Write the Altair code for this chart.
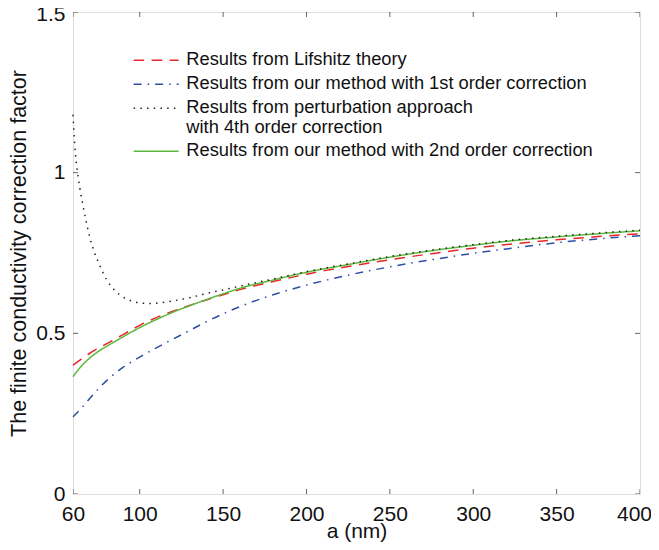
import altair as alt
import pandas as pd

# ---- data ----
S_LIF = "Results from Lifshitz theory"
S_1ST = "Results from our method with 1st order correction"
S_PERT = "Results from perturbation approach\nwith 4th order correction"
S_2ND = "Results from our method with 2nd order correction"
series_order = [S_LIF, S_1ST, S_PERT, S_2ND]

a_common = [60, 65, 70, 75, 80, 90, 100, 110, 120, 130, 140, 150, 160,
            180, 200, 225, 250, 275, 300, 325, 350, 375, 400]
lifshitz = [0.401, 0.420, 0.438, 0.453, 0.467, 0.496, 0.525, 0.549, 0.569,
            0.587, 0.604, 0.620, 0.636, 0.661, 0.684, 0.708, 0.729, 0.748,
            0.765, 0.779, 0.791, 0.801, 0.810]
first_order = [0.240, 0.267, 0.297, 0.326, 0.352, 0.394, 0.426, 0.455, 0.482,
               0.509, 0.536, 0.561, 0.583, 0.620, 0.650, 0.681, 0.707, 0.729,
               0.749, 0.766, 0.782, 0.794, 0.804]
second_order = [0.365, 0.398, 0.423, 0.443, 0.459, 0.489, 0.518, 0.543, 0.566,
                0.586, 0.605, 0.623, 0.640, 0.666, 0.690, 0.714, 0.737, 0.757,
                0.774, 0.789, 0.800, 0.810, 0.819]

a_pert = [60, 61, 62, 63, 64, 66, 68, 70, 73, 76, 80, 85, 90, 95, 100, 105,
          110, 115, 120, 130, 140, 150, 160, 180, 200, 225, 250, 275, 300,
          325, 350, 375, 400]
perturbation = [1.18, 1.09, 1.03, 0.99, 0.955, 0.897, 0.846, 0.800, 0.750,
                0.712, 0.668, 0.634, 0.613, 0.601, 0.595, 0.593, 0.594, 0.597,
                0.601, 0.611, 0.624, 0.635, 0.647, 0.669, 0.692, 0.716, 0.739,
                0.759, 0.776, 0.791, 0.802, 0.812, 0.821]

x_ticks = [60, 100, 150, 200, 250, 300, 350, 400]
y_ticks = [0, 0.5, 1, 1.5]

colors = ["#e8262b", "#2c4fa3", "#222222", "#5cb83c"]
dashes = [[10.5, 7.5], [8, 6, 1.5, 6], [1.5, 5.2], [1, 0]]

rows = []
for s, ys in [(S_LIF, lifshitz), (S_1ST, first_order), (S_2ND, second_order)]:
    for a, v in zip(a_common, ys):
        rows.append({"a": a, "f": v, "series": s})
for a, v in zip(a_pert, perturbation):
    rows.append({"a": a, "f": v, "series": S_PERT})
df = pd.DataFrame(rows)
df_xt = pd.DataFrame({"a": x_ticks})
df_yt = pd.DataFrame({"f": y_ticks})

FONT = "Liberation Sans"
TXT = "#111111"
W, H = 567, 482
xscale = alt.Scale(domain=[60, 400], nice=False, zero=False)
yscale = alt.Scale(domain=[0, 1.5], nice=False)

x_axis = alt.Axis(title="a (nm)", values=x_ticks, labelExpr="'' + datum.value",
                  grid=False, domain=False, ticks=False, labelPadding=9,
                  labelFlush=False, labelOverlap=False,
                  labelOffset={"condition": {"test": "datum.value == 400", "value": -6},
                               "value": 0},
                  labelFont=FONT, labelFontSize=21, labelColor=TXT,
                  titleFont=FONT, titleFontSize=21, titleFontWeight="normal",
                  titleColor=TXT, titlePadding=-4)
y_axis = alt.Axis(title="The finite conductivity correction factor",
                  values=y_ticks, labelExpr="'' + datum.value", grid=False,
                  domain=False, ticks=False, labelPadding=8,
                  labelFlush=False, labelOverlap=False,
                  labelOffset={"condition": {"test": "datum.value == 1.5", "value": 2},
                               "value": 0},
                  labelFont=FONT, labelFontSize=21, labelColor=TXT,
                  titleFont=FONT, titleFontSize=21.5, titleFontWeight="normal",
                  titleColor=TXT, titlePadding=5)

legend = alt.Legend(orient="none", legendX=74, legendY=39,
                    title=None, symbolType="M-3,0H3",
                    symbolSize=225, symbolStrokeWidth=1.5,
                    labelFont=FONT, labelFontSize=18.3,
                    labelColor=TXT, labelOffset=21,
                    labelLimit=1000, rowPadding=5, padding=0,
                    labelExpr="split(datum.label, '\\n')")

lines = alt.Chart(df).mark_line(strokeWidth=1.5, interpolate="monotone").encode(
    x=alt.X("a:Q", scale=xscale, axis=x_axis),
    y=alt.Y("f:Q", scale=yscale, axis=y_axis),
    color=alt.Color("series:N", scale=alt.Scale(domain=series_order, range=colors),
                    legend=legend),
    strokeDash=alt.StrokeDash("series:N",
                              scale=alt.Scale(domain=series_order, range=dashes),
                              legend=legend),
    detail="series:N",
)

# inward ticks on all four sides (half of each tick is clipped away at the frame)
TICK = dict(clip=True, size=10, thickness=1, color="#222222")
xt_bottom = alt.Chart(df_xt).mark_tick(orient="vertical", **TICK).encode(
    x=alt.X("a:Q", scale=xscale, axis=x_axis), y=alt.value(H))
xt_top = alt.Chart(df_xt).mark_tick(orient="vertical", **TICK).encode(
    x=alt.X("a:Q", scale=xscale, axis=x_axis), y=alt.value(0))
yt_left = alt.Chart(df_yt).mark_tick(orient="horizontal", **TICK).encode(
    y=alt.Y("f:Q", scale=yscale, axis=y_axis), x=alt.value(0))
yt_right = alt.Chart(df_yt).mark_tick(orient="horizontal", **TICK).encode(
    y=alt.Y("f:Q", scale=yscale, axis=y_axis), x=alt.value(W))

chart = alt.layer(lines, xt_bottom, xt_top, yt_left, yt_right).properties(
    width=W, height=H,
    autosize=alt.AutoSizeParams(type="none"),
    padding={"left": 65, "top": 4, "right": 11, "bottom": 48},
).configure_view(
    stroke="#222222", strokeWidth=1
).configure(
    style={"guide-label": {"lineHeight": 19.5}}
)

chart.save("out.html", embed_options={"renderer": "svg", "actions": False})
